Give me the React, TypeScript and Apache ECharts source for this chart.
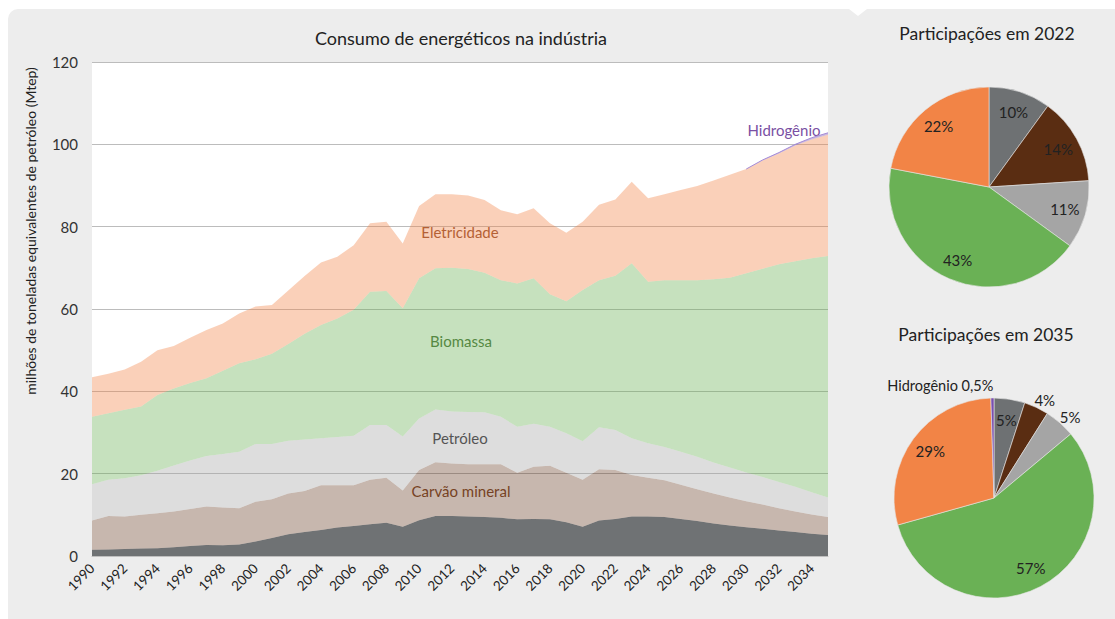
import React, { useEffect, useRef } from "react";
import * as echarts from "echarts";

const years: string[] = [];
for (let y = 1990; y <= 2035; y++) years.push(String(y));

const gasNatural = [1.5,1.6,1.7,1.8,1.9,2.1,2.4,2.7,2.6,2.8,3.5,4.4,5.3,5.8,6.3,6.9,7.3,7.7,8.1,7.1,8.7,9.7,9.7,9.6,9.5,9.3,8.9,9.0,8.9,8.2,7.1,8.6,9.0,9.6,9.6,9.5,9.0,8.5,7.9,7.4,7.0,6.6,6.2,5.8,5.4,5.1];
const carvaoMineral = [7.1,8.1,7.9,8.2,8.5,8.7,9.0,9.3,9.2,8.8,9.7,9.4,9.9,10.0,10.9,10.3,9.9,10.8,10.9,8.8,12.2,13.1,12.8,12.7,12.8,13.0,11.3,12.7,13.0,12.0,11.4,12.5,11.9,10.1,9.4,8.9,8.3,7.7,7.3,6.8,6.3,5.9,5.4,5.0,4.7,4.4];
const petroleo = [8.8,8.8,9.3,9.6,10.3,11.2,11.8,12.3,13.0,13.7,14.0,13.4,12.8,12.5,11.4,11.7,12.0,13.3,12.8,13.1,12.5,12.8,12.6,12.7,12.6,11.5,11.2,10.4,9.5,9.6,9.4,10.2,9.7,8.9,8.4,8.1,8.0,7.9,7.5,7.3,7.0,6.7,6.4,6.0,5.4,4.7];
const biomassa = [16.4,16.2,16.6,16.7,18.4,18.7,18.8,18.9,20.2,21.5,20.6,21.9,23.5,25.7,27.5,28.8,30.6,32.4,32.6,31.2,34.1,34.3,34.9,34.7,33.9,33.2,34.8,35.4,32.2,32.1,36.7,35.7,37.5,42.5,39.2,40.5,41.7,42.9,44.5,46.1,48.4,50.6,52.9,54.8,56.8,58.7];
const eletricidade = [9.6,9.6,9.8,10.9,10.9,10.3,11.0,11.7,11.5,12.1,12.8,11.9,13.0,14.0,15.2,15.0,15.7,16.6,16.8,15.7,17.5,18.0,17.9,17.9,17.7,17.0,16.8,17.0,17.2,16.6,16.6,18.3,18.5,19.8,20.3,20.9,21.9,22.9,24.0,25.0,25.3,26.3,26.9,28.1,28.9,29.4];
const hidrogenio: (number | null)[] = [
  null,null,null,null,null,null,null,null,null,null,
  null,null,null,null,null,null,null,null,null,null,
  null,null,null,null,null,null,null,null,null,null,
  null,null,null,null,null,null,null,null,null,null,
  0,0.1,0.2,0.3,0.4,0.5,
];

const fontes = ["Gás natural", "Carvão mineral", "Petróleo", "Biomassa", "Eletricidade", "Hidrogênio"];
const share2022 = [10, 14, 11, 43, 22];
const share2035 = [5, 4, 5, 57, 29, 0.5];

const pieColors = ["#6e7173", "#5a2d12", "#a5a5a5", "#6ab155", "#f28446", "#7a4fb0"];
const areaColors = [
  "#6f7274",
  "rgba(90,45,18,0.34)",
  "rgba(165,165,165,0.38)",
  "rgba(106,177,85,0.38)",
  "rgba(242,132,70,0.38)",
  "rgba(122,79,176,0.4)",
];

const FONT = "Lato, 'Open Sans', sans-serif";

export default function App() {
  const ref = useRef<HTMLDivElement>(null);
  useEffect(() => {
    if (!ref.current) return;
    const chart = echarts.init(ref.current, undefined, { renderer: "svg" });
    const areaSeries = [gasNatural, carvaoMineral, petroleo, biomassa, eletricidade, hidrogenio].map((d, i) => ({
      name: fontes[i],
      type: "line",
      stack: "total",
      data: d,
      symbol: "none",
      showSymbol: false,
      connectNulls: false,
      lineStyle: i === 5 ? { width: 1, color: "#a58bd6" } : { width: 0 },
      areaStyle: { color: areaColors[i], opacity: 1 },
      z: 2,
    }));

    const pieBase = (center: number[], values: number[]) => ({
      type: "pie",
      center,
      radius: [0, 100],
      startAngle: 90,
      clockwise: true,
      silent: true,
      label: { show: false },
      labelLine: { show: false },
      itemStyle: { borderColor: "#e6e6e6", borderWidth: 0.6 },
      data: values.map((v, i) => ({ name: fontes[i], value: v, itemStyle: { color: pieColors[i] } })),
    });
    const fmt = (p: any) => {
      const v = String(p.value).replace(".", ",");
      return p.name === "Hidrogênio" ? `Hidrogênio ${v}%` : `${v}%`;
    };
    const pieLabels = (center: number[], values: number[], outside: number[]) => ({
      type: "pie",
      center,
      radius: [56, 96],
      startAngle: 90,
      clockwise: true,
      silent: true,
      avoidLabelOverlap: false,
      itemStyle: { color: "rgba(0,0,0,0)", borderWidth: 0 },
      label: {
        show: true,
        position: "inside",
        formatter: fmt,
        fontFamily: FONT,
        fontSize: 15,
        color: "#222",
      },
      labelLine: { show: false },
      labelLayout: (params: any) => {
        const i = params.dataIndex;
        if (!outside.includes(i)) return {};
        if (fontes[i] === "Hidrogênio") return { dx: 6, dy: -5 };
        return { dx: -params.labelRect.width / 2 };
      },
      data: values.map((v, i) => {
        const o: any = { name: fontes[i], value: v };
        if (outside.includes(i)) {
          o.label = { position: "outside", color: "#222", fontSize: i === 5 ? 14.5 : 15 };
          o.labelLine = { show: false, length: 12, length2: 0 };
        }
        return o;
      }),
    });

    const textStyle = (x: number, y: number, text: string, color: string, size = 15) => ({
      type: "text",
      x,
      y,
      silent: true,
      style: { text, fill: color, font: `${size}px ${FONT}`, textAlign: "center", textVerticalAlign: "middle" },
    });

    chart.setOption({
      animation: false,
      backgroundColor: "transparent",
      grid: { left: 92, right: 287, top: 62, bottom: 63, show: true, backgroundColor: "#ffffff", borderWidth: 0 },
      xAxis: {
        type: "category",
        data: years,
        boundaryGap: false,
        axisLine: { lineStyle: { color: "#bfbfbf" } },
        axisTick: { show: false },
        axisLabel: { interval: 1, rotate: 45, fontSize: 13.5, color: "#222", fontFamily: FONT, margin: 10 },
        splitLine: { show: false },
      },
      yAxis: {
        type: "value",
        min: 0,
        max: 120,
        interval: 20,
        axisLine: { show: false },
        axisTick: { show: false },
        axisLabel: { fontSize: 15, color: "#333", fontFamily: FONT, margin: 14 },
        splitLine: { lineStyle: { color: "#bcbcbc", width: 1 } },
      },
      series: [
        ...areaSeries,
        pieBase([989, 187], share2022),
        pieLabels([989, 187], share2022, []),
        pieBase([994, 498], share2035),
        pieLabels([994, 498], share2035, [1, 2, 5]),
      ],
      graphic: [
        { type: "polygon", silent: true, shape: { points: [[849, 9], [867, 9], [858, 16]] }, style: { fill: "#ffffff" } },
        textStyle(461, 38, "Consumo de energéticos na indústria", "#222", 18),
        textStyle(987, 33, "Participações em 2022", "#222", 17.5),
        textStyle(986, 334, "Participações em 2035", "#222", 17.5),
        {
          type: "text",
          x: 30,
          y: 231,
          rotation: Math.PI / 2,
          silent: true,
          style: {
            text: "milhões de toneladas equivalentes de petróleo (Mtep)",
            fill: "#222",
            font: `14px ${FONT}`,
            textAlign: "center",
            textVerticalAlign: "middle",
          },
        },
        textStyle(460, 232, "Eletricidade", "#8e4b2a"),
        textStyle(461, 341, "Biomassa", "#4a7038"),
        textStyle(460, 438, "Petróleo", "#222"),
        textStyle(461, 491, "Carvão mineral", "#854e2d"),
        textStyle(460, 537, "Gás natural", "#f0f0f0"),
        textStyle(784, 130, "Hidrogênio", "#7a4fa3"),
      ],
    });
    return () => chart.dispose();
  }, []);

  return (
    <div style={{ position: "fixed", left: 0, top: 0, width: 1115, height: 619, background: "#ffffff" }}>
      <div
        style={{
          position: "absolute",
          left: 8,
          top: 9,
          width: 1107,
          height: 610,
          background: "#ededed",
          borderTopLeftRadius: 10,
        }}
      />
      <div ref={ref} style={{ position: "absolute", left: 0, top: 0, width: 1115, height: 619 }} />
    </div>
  );
}
